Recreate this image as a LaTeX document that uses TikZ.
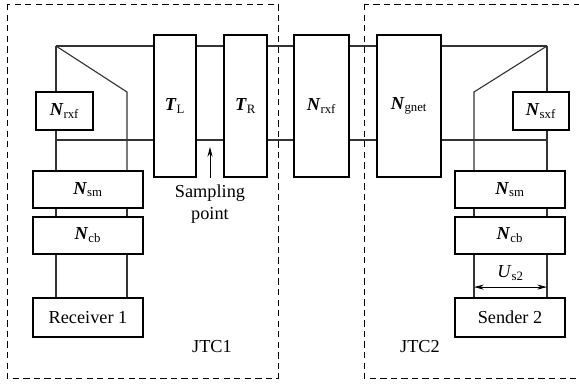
\documentclass[tikz,border=0pt]{standalone}
\usepackage{fontspec}
\setmainfont{Liberation Serif}
\usepackage{tikz}
\usetikzlibrary{arrows,arrows.meta,positioning,calc}

\newcommand{\blab}[2]{\textbf{\textit{#1}}\textsubscript{#2}}

\tikzset{
    blk/.style={rectangle, draw, line width=1.3pt, fill=white, inner sep=0pt},
    tall/.style={blk, minimum height=3.55cm},
    small/.style={blk, minimum height=0.95cm},
    wide/.style={blk, minimum width=2.75cm, minimum height=0.93cm},
    wire/.style={line width=0.8pt, black!80},
    zone/.style={dashed, dash pattern=on 4.5pt off 3pt, line width=0.6pt}
}

\begin{document}
\begin{tikzpicture}[x=0.025cm, y=-0.025cm, font=\fontsize{13}{15}\selectfont, >={Stealth[length=7pt,width=3.6pt]}]
    \useasboundingbox (0,0) rectangle (579,387);

    % junction points of the wiring
    \coordinate (lt) at (56,46);
    \coordinate (lb) at (56,140);
    \coordinate (ld) at (127,92);
    \coordinate (rt) at (547,46);
    \coordinate (rb) at (547,140);
    \coordinate (rd) at (474,92);

    % the two track circuits
    \draw [zone] (7,4) rectangle (278,378);
    \draw [zone] (364,4) rectangle (620,378);

    % two-port networks in series
    \node (tl) [tall, minimum width=1.05cm] at (175,106) {\blab{T}{L}};
    \node (tr) [tall, minimum width=1.075cm] at (245.5,106) {\blab{T}{R}};
    \node (rxfm) [tall, minimum width=1.375cm] at (321.5,106) {\blab{N}{rxf}};
    \node (gnet) [tall, minimum width=1.6cm] at (409,106) {\blab{N}{gnet}};

    % receiver end
    \node (rxfl) [small, minimum width=1.425cm] at (64.5,111) {\blab{N}{rxf}};
    \node (sml) [wide] at (88,189.5) {\blab{N}{sm}};
    \node (cbl) [wide] at (88,235.5) {\blab{N}{cb}};
    \node (rcv) [wide, minimum height=0.975cm] at (88,317.5) {Receiver 1};

    % sender end
    \node (sxf) [small, minimum width=1.4cm] at (541,111) {\blab{N}{sxf}};
    \node (smr) [wide] at (510,189.5) {\blab{N}{sm}};
    \node (cbr) [wide] at (510,235.5) {\blab{N}{cb}};
    \node (snd) [wide, minimum height=0.975cm] at (510,317.5) {Sender 2};

    % rails
    \draw [wire] (lt) -- (tl.west |- lt) (tl.east |- lt) -- (tr.west |- lt)
        (tr.east |- lt) -- (rxfm.west |- lt) (rxfm.east |- lt) -- (gnet.west |- lt)
        (gnet.east |- lt) -- (rt);
    \draw [wire] (lb) -- (tl.west |- lb) (tl.east |- lb) -- (tr.west |- lb)
        (tr.east |- lb) -- (rxfm.west |- lb) (rxfm.east |- lb) -- (gnet.west |- lb)
        (gnet.east |- lb) -- (rb);

    % receiver side leads
    \draw [wire] (lt) -- (rxfl.north -| lt) (rxfl.south -| lt) -- (sml.north -| lt);
    \draw [wire] (lt) -- (ld) -- (sml.north -| ld);
    \draw [wire] (sml.south -| lt) -- (cbl.north -| lt) (sml.south -| ld) -- (cbl.north -| ld);
    \draw [wire] (cbl.south -| lt) -- (rcv.north -| lt) (cbl.south -| ld) -- (rcv.north -| ld);

    % sender side leads
    \draw [wire] (rt) -- (sxf.north -| rt) (sxf.south -| rt) -- (smr.north -| rt);
    \draw [wire] (rt) -- (rd) -- (smr.north -| rd);
    \draw [wire] (smr.south -| rt) -- (cbr.north -| rt) (smr.south -| rd) -- (cbr.north -| rd);
    \draw [wire] (cbr.south -| rt) -- (snd.north -| rt) (cbr.south -| rd) -- (snd.north -| rd);

    % sender voltage
    \coordinate (ua) at ($(rd |- snd.north)+(0,-10)$);
    \coordinate (ub) at ($(rt |- snd.north)+(0,-10)$);
    \draw [<->, line width=0.6pt] (ua) -- (ub) node [midway, above=1pt] {\textit{U}\textsubscript{s2}};

    % sampling point
    \coordinate (sp) at ($(tl.south east)!0.5!(tr.south west)$);
    \draw [->, line width=0.6pt] (sp) -- ++(0,-31);
    \node (spl) [below=5pt of sp, align=center, inner sep=0pt] {Sampling\\point};

    \node (jtc1) at (212,347) {JTC1};
    \node (jtc2) at (420,347) {JTC2};
\end{tikzpicture}
\end{document}
